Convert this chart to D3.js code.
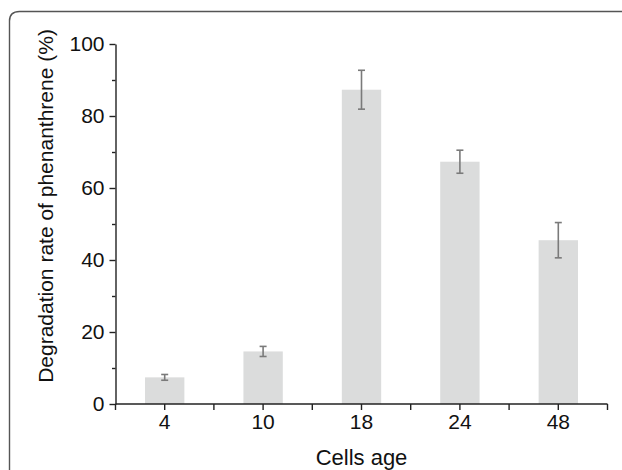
<!DOCTYPE html>
<html>
<head>
<meta charset="utf-8">
<script src="https://cdn.jsdelivr.net/npm/d3@7"></script>
<style>
  body { margin: 0; background: #fff; }
  svg { display: block; font-family: "Liberation Sans", Arial, sans-serif; }
  .tick text { font-size: 21px; font-family: "Liberation Sans", Arial, sans-serif; fill: #111; }
</style>
</head>
<body>
<svg id="chart" width="622" height="470"></svg>
<script>
// Chart data
const ages = ['4', '10', '18', '24', '48'];
const rates = [7.4, 14.6, 87.3, 67.3, 45.5];
const errors = [0.8, 1.4, 5.4, 3.2, 4.9];
const yTicks = [0, 20, 40, 60, 80, 100];
const yMinorTicks = [10, 30, 50, 70, 90];

const svg = d3.select('#chart');
const W = 622, H = 470;
const margin = { top: 44, right: 14.5, bottom: 66, left: 115.5 };

// Figure frame (rounded top-left corner)
svg.append('path')
    .attr('d', `M9.5,${H + 2} L9.5,21 Q9.5,11.5 19.5,11.5 L${W + 2},11.5`)
    .attr('fill', 'none')
    .attr('stroke', '#555')
    .attr('stroke-width', 1.4);

const x = d3.scaleBand()
    .domain(ages)
    .range([margin.left, W - margin.right])
    .paddingInner(0.6)
    .paddingOuter(0.3);

const y = d3.scaleLinear()
    .domain([0, 100])
    .range([H - margin.bottom, margin.top]);

const step = x.step();
const x0 = margin.left, x1 = W - margin.right;
const yBase = y(0);

// Bars
svg.selectAll('.bar')
    .data(ages)
    .enter()
    .append('rect')
    .attr('class', 'bar')
    .attr('x', d => x(d))
    .attr('y', (d, i) => y(rates[i]))
    .attr('width', x.bandwidth())
    .attr('height', (d, i) => yBase - y(rates[i]))
    .attr('fill', '#dbdcdc');

// Error bars
const err = svg.append('g')
    .attr('stroke', '#7a7a7a')
    .attr('stroke-width', 1.6)
    .attr('fill', 'none');

ages.forEach((d, i) => {
    const cx = x(d) + x.bandwidth() / 2;
    const top = y(rates[i] + errors[i]);
    const bot = y(rates[i] - errors[i]);
    err.append('line').attr('x1', cx).attr('x2', cx).attr('y1', top).attr('y2', bot);
    err.append('line').attr('x1', cx - 3.5).attr('x2', cx + 3.5).attr('y1', top).attr('y2', top);
    err.append('line').attr('x1', cx - 3.5).attr('x2', cx + 3.5).attr('y1', bot).attr('y2', bot);
});

// Y axis
svg.append('g')
    .attr('class', 'axis')
    .attr('transform', `translate(${x0},0)`)
    .call(d3.axisLeft(y).tickValues(yTicks).tickSize(6).tickPadding(5).tickSizeOuter(0));

svg.append('g')
    .attr('class', 'axis')
    .attr('transform', `translate(${x0},0)`)
    .call(d3.axisLeft(y).tickValues(yMinorTicks).tickSize(3.5).tickFormat('').tickSizeOuter(0))
    .select('.domain').remove();

// X axis: category ticks at centres, minor ticks at band edges
const xAxis = svg.append('g')
    .attr('class', 'axis')
    .attr('transform', `translate(0,${yBase})`)
    .call(d3.axisBottom(x).tickSize(6).tickPadding(4).tickSizeOuter(0));

xAxis.select('.domain').attr('d', `M${x0},0H${x1}`);

const edges = d3.range(ages.length + 1).map(i => x0 + i * step);
svg.append('g')
    .attr('class', 'axis')
    .attr('transform', `translate(0,${yBase})`)
    .selectAll('line')
    .data(edges)
    .enter()
    .append('line')
    .attr('x1', d => d).attr('x2', d => d)
    .attr('y1', 0).attr('y2', 6);

svg.selectAll('.axis .domain, .axis line')
    .attr('stroke', '#222')
    .attr('stroke-width', 1.4);

// Axis titles
svg.append('text')
    .attr('x', (x0 + x1) / 2)
    .attr('y', 465)
    .attr('text-anchor', 'middle')
    .style('font-size', '22px')
    .attr('fill', '#111')
    .text('Cells age');

svg.append('text')
    .attr('transform', 'rotate(-90)')
    .attr('x', -206)
    .attr('y', 53)
    .attr('text-anchor', 'middle')
    .style('font-size', '21px')
    .attr('fill', '#111')
    .text('Degradation rate of phenanthrene (%)');
</script>
</body>
</html>
